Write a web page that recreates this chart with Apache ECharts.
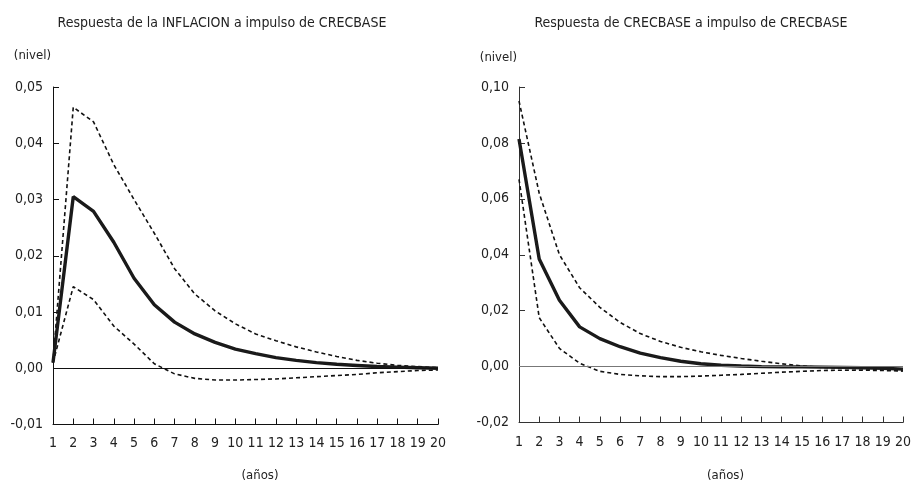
<!DOCTYPE html>
<html>
<head>
<meta charset="utf-8">
<script src="https://cdn.jsdelivr.net/npm/echarts@6/dist/echarts.min.js"></script>
<style>
  html, body { margin: 0; padding: 0; background: #fff; }
  #main { width: 914px; height: 487px; }
</style>
</head>
<body>
<div id="main"></div>
<script>
// horizonte (años)
var years = ['1','2','3','4','5','6','7','8','9','10','11','12','13','14','15','16','17','18','19','20'];

// Respuesta de la INFLACION a impulso de CRECBASE
var inflCentral = [0.001, 0.0305, 0.0279, 0.0224, 0.0160, 0.0113, 0.0082, 0.0061, 0.0046, 0.0034, 0.0026, 0.0019, 0.0014, 0.0010, 0.0007, 0.0005, 0.0003, 0.0002, 0.0001, 0.0000];
var inflUpper   = [0.001, 0.0464, 0.0438, 0.0362, 0.0300, 0.0240, 0.0177, 0.0132, 0.0102, 0.0079, 0.0061, 0.0049, 0.0038, 0.0029, 0.0021, 0.0014, 0.0009, 0.0005, 0.0003, 0.0001];
var inflLower   = [0.001, 0.0145, 0.0122, 0.0075, 0.0043, 0.0008, -0.0010, -0.0018, -0.0021, -0.0021, -0.0020, -0.0019, -0.0017, -0.0015, -0.0013, -0.0011, -0.0008, -0.0006, -0.0004, -0.0003];

// Respuesta de CRECBASE a impulso de CRECBASE
var crecCentral = [0.0814, 0.0385, 0.0237, 0.0142, 0.0100, 0.0071, 0.0048, 0.0032, 0.0019, 0.0010, 0.0005, 0.0002, 0.0000, -0.0001, -0.0001, -0.0002, -0.0003, -0.0004, -0.0006, -0.0009];
var crecUpper   = [0.095, 0.062, 0.040, 0.0282, 0.0212, 0.0158, 0.0118, 0.0090, 0.0069, 0.0053, 0.0040, 0.0029, 0.0019, 0.0010, 0.0002, -0.0003, -0.0006, -0.0008, -0.0010, -0.0015];
var crecLower   = [0.067, 0.0175, 0.0065, 0.0012, -0.0017, -0.0028, -0.0033, -0.0036, -0.0036, -0.0034, -0.0031, -0.0028, -0.0024, -0.0020, -0.0017, -0.0014, -0.0013, -0.0013, -0.0014, -0.0016];

var FONT = "'Liberation Sans Narrow', 'DejaVu Sans Condensed', 'Liberation Sans', sans-serif";
var TXT = '#222';

function fmt(v) {
  return v.toFixed(2).replace('.', ',');
}

function xAxisFor(idx, gap, margin, axisColor) {
  return {
    type: 'category', gridIndex: idx, data: years, boundaryGap: false,
    axisLine: { onZero: false, lineStyle: { color: axisColor, width: 1 } },
    axisTick: { inside: true, length: 6, interval: 0, lineStyle: { color: axisColor } },
    axisLabel: { interval: 0, margin: margin, color: TXT, fontFamily: FONT, fontSize: 14 },
    splitLine: { show: false },
    name: '(años)', nameLocation: 'middle', nameGap: gap,
    nameTextStyle: { color: TXT, fontFamily: FONT, fontSize: 13, verticalAlign: 'middle', padding: [0, 0, 0, 29] }
  };
}

function yAxisFor(idx, min, max, step, gap, axisColor) {
  return {
    type: 'value', gridIndex: idx, min: min, max: max, interval: step,
    axisLine: { show: true, lineStyle: { color: axisColor, width: 1 } },
    axisTick: { show: true, inside: true, length: 6, lineStyle: { color: axisColor } },
    axisLabel: { margin: 10, color: TXT, fontFamily: FONT, fontSize: 14, formatter: fmt },
    splitLine: { show: false },
    name: '(nivel)', nameLocation: 'end', nameGap: gap,
    nameTextStyle: { color: TXT, fontFamily: FONT, fontSize: 13, align: 'right', verticalAlign: 'middle', padding: [0, 2, 0, 0] }
  };
}

function band(idx, data) {
  return {
    type: 'line', xAxisIndex: idx, yAxisIndex: idx, data: data,
    symbol: 'none', silent: true,
    lineStyle: { color: '#111', width: 1.6, type: [4, 3] }
  };
}

function central(idx, data, zeroColor) {
  return {
    type: 'line', xAxisIndex: idx, yAxisIndex: idx, data: data,
    symbol: 'none', silent: true, z: 3,
    lineStyle: { color: '#1a1a1a', width: 3.4 },
    markLine: {
      silent: true, symbol: ['none', 'none'], label: { show: false },
      lineStyle: { color: zeroColor, width: 1, type: 'solid' },
      data: [{ yAxis: 0 }]
    }
  };
}

var chart = echarts.init(document.getElementById('main'));
var option = {
  animation: false,
  backgroundColor: '#fff',
  title: [
    { text: 'Respuesta de la INFLACION a impulso de CRECBASE', left: 222, top: 16, textAlign: 'center', padding: 0,
      textStyle: { color: TXT, fontFamily: FONT, fontSize: 14, fontWeight: 'normal' } },
    { text: 'Respuesta de CRECBASE a impulso de CRECBASE', left: 691, top: 16, textAlign: 'center', padding: 0,
      textStyle: { color: TXT, fontFamily: FONT, fontSize: 14, fontWeight: 'normal' } }
  ],
  grid: [
    { left: 53, top: 87, width: 385, height: 341, containLabel: false },
    { left: 519, top: 87, width: 385, height: 343, containLabel: false }
  ],
  xAxis: [xAxisFor(0, 51, 12, '#111'), xAxisFor(1, 53, 13, '#333')],
  yAxis: [yAxisFor(0, -0.01, 0.05, 0.01, 31, '#111'), yAxisFor(1, -0.02, 0.10, 0.02, 29, '#333')],
  series: [
    band(0, inflUpper), band(0, inflLower), central(0, inflCentral, '#111'),
    band(1, crecUpper), band(1, crecLower), central(1, crecCentral, '#777')
  ]
};
chart.setOption(option);
</script>
</body>
</html>
